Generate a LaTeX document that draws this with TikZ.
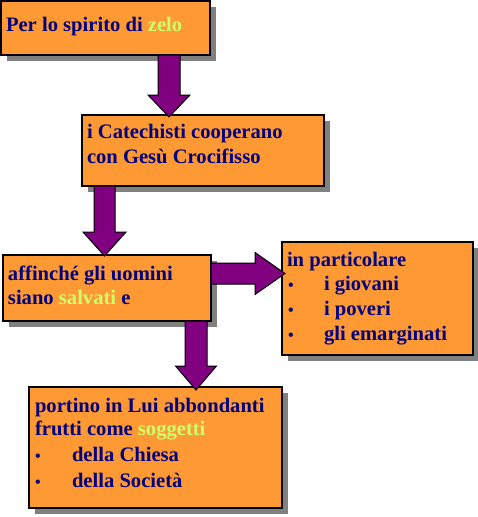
\documentclass[tikz,border=0pt]{standalone}
\usepackage{fontspec}
\setmainfont{Liberation Serif}
\usetikzlibrary{calc,shadows}
\definecolor{boxorange}{HTML}{FF9933}
\definecolor{txtblue}{HTML}{000080}
\definecolor{hilite}{HTML}{CCFF66}
\definecolor{arrowpurple}{HTML}{800080}
\definecolor{shadowgray}{HTML}{808080}
\tikzset{
  box/.style={draw=black, line width=2.3pt, fill=boxorange, inner sep=0pt, outer sep=0pt, anchor=north west,
    drop shadow={shadow xshift=6pt, shadow yshift=-6pt, fill=shadowgray, opacity=1}},
  txt/.style={anchor=base west, inner sep=0pt, outer sep=0pt, font=\bfseries\fontsize{20.6}{24}\selectfont, text=txtblue},
  bul/.style={anchor=base west, inner sep=0pt, outer sep=0pt, font=\bfseries\fontsize{16}{18}\selectfont, text=txtblue},
  barrow/.style={draw=black, line width=1pt, fill=arrowpurple, line join=miter},
}
\newcommand\bardown[5]{\draw[barrow] let \p1=(#1), \p2=(#2) in
  (\x1-#3pt,\y1) -- (\x1+#3pt,\y1) -- (\x1+#3pt,\y2+#5pt) -- (\x1+#4pt,\y2+#5pt) -- (\x1,\y2)
  -- (\x1-#4pt,\y2+#5pt) -- (\x1-#3pt,\y2+#5pt) -- cycle;}
\newcommand\barright[5]{\draw[barrow] let \p1=(#1), \p2=(#2) in
  (\x1,\y1+#3pt) -- (\x2-#5pt,\y1+#3pt) -- (\x2-#5pt,\y1+#4pt) -- (\x2,\y1)
  -- (\x2-#5pt,\y1-#4pt) -- (\x2-#5pt,\y1-#3pt) -- (\x1,\y1-#3pt) -- cycle;}
\begin{document}
\begin{tikzpicture}[x=1pt,y=-1pt]
\useasboundingbox (0,0) rectangle (478,517);
% boxes
\node[box, minimum width=209pt, minimum height=54pt] (b1) at (1,1) {};
\node[box, minimum width=242pt, minimum height=71pt] (b2) at (82,115) {};
\node[box, minimum width=208pt, minimum height=66pt] (b3) at (3,255) {};
\node[box, minimum width=191pt, minimum height=113pt] (b4) at (282,242) {};
\node[box, minimum width=253pt, minimum height=121pt] (b5) at (29,387) {};
% texts
\node[txt] (t1) at (6,31) {Per lo spirito di \textcolor{hilite}{zelo}};
\node[txt] (t2a) at (87,138) {i Catechisti cooperano};
\node[txt] (t2b) at (87,163) {con Gesù Crocifisso};
\node[txt] (t3a) at (8,280) {affinché gli uomini};
\node[txt] (t3b) at (8,304) {siano \textcolor{hilite}{salvati} e};
\node[txt] (t4a) at (287,266) {in particolare};
\node[bul] (u4b) at (288,290) {•};
\node[txt] (t4b) at (324,290) {i giovani};
\node[bul] (u4c) at (288,315) {•};
\node[txt] (t4c) at (324,315) {i poveri};
\node[bul] (u4d) at (288,340) {•};
\node[txt] (t4d) at (324,340) {gli emarginati};
\node[txt] (t5a) at (35,412) {portino in Lui abbondanti};
\node[txt] (t5b) at (35,435) {frutti come \textcolor{hilite}{soggetti}};
\node[bul] (u5c) at (35,461) {•};
\node[txt] (t5c) at (72,461) {della Chiesa};
\node[bul] (u5d) at (35,487) {•};
\node[txt] (t5d) at (72,487) {della Società};
% arrows
\coordinate (a1s) at ($(b1.south)+(63.5,0)$);
\coordinate (a1e) at ($(a1s |- b2.north)+(0,2)$);
\bardown{a1s}{a1e}{11}{21}{22}
\coordinate (a2s) at ($(b2.south)+(-98.5,0)$);
\coordinate (a2e) at ($(a2s |- b3.north)+(0,1)$);
\bardown{a2s}{a2e}{10.5}{21.5}{24}
\coordinate (a3s) at ($(b3.east)+(0,-14.5)$);
\coordinate (a3e) at ($(a3s -| b4.west)+(3,0)$);
\barright{a3s}{a3e}{10.5}{21}{30}
\coordinate (a4s) at ($(b3.south)+(89,0)$);
\coordinate (a4e) at ($(a4s |- b5.north)+(0,3)$);
\bardown{a4s}{a4e}{11}{20.5}{24}
\end{tikzpicture}
\end{document}
